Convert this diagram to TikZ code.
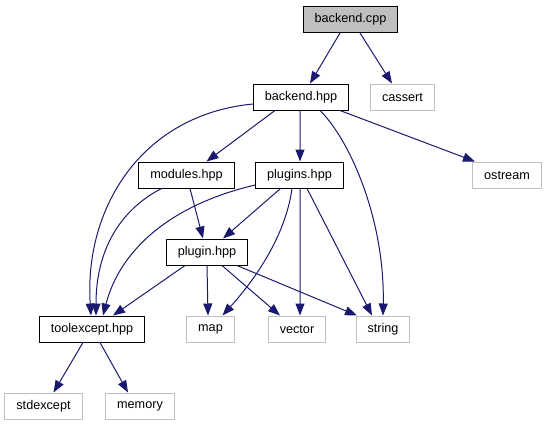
\documentclass[tikz,border=0pt]{standalone}
\usepackage{fontspec}
\setmainfont{Liberation Sans}
\usetikzlibrary{arrows.meta}
\definecolor{edgeBlue}{HTML}{191970}
\definecolor{extGray}{HTML}{BFBFBF}

\begin{document}
\begin{tikzpicture}[x=1bp, y=-1bp,
  file/.style={rectangle, draw=black, line width=1bp, minimum height=26bp,
               inner xsep=11.5bp, inner ysep=0pt, font=\fontsize{12.7}{15}\selectfont},
  ext/.style={file, draw=extGray},
  root/.style={file, fill=extGray},
  dep/.style={-{Triangle[length=12bp, width=9bp]}, line width=1bp, draw=edgeBlue}
]
\useasboundingbox (0,0) rectangle (547,427);
\node[root] (cpp) at (350.5,19.5) {backend.cpp};
\node[file] (bhpp) at (301,97) {backend.hpp};
\node[ext] (cassert) at (402.5,97) {cassert};
\node[file] (modules) at (186.5,175) {modules.hpp};
\node[file] (plugins) at (299.5,175) {plugins.hpp};
\node[ext] (ostream) at (507,175) {ostream};
\node[file] (plugin) at (207,252) {plugin.hpp};
\node[file] (toolexcept) at (92,329) {toolexcept.hpp};
\node[ext] (map) at (210.5,329) {map};
\node[ext] (vector) at (297,329) {vector};
\node[ext] (string) at (383,329) {string};
\node[ext] (stdexcept) at (43.5,406) {stdexcept};
\node[ext] (memory) at (140,406) {memory};
\draw[dep] ([xshift=-10.5bp]cpp.south) -- ([xshift=9bp]bhpp.north);
\draw[dep] ([xshift=9.5bp]cpp.south) -- ([xshift=-10.5bp]cassert.north);
\draw[dep] ([yshift=-7bp]bhpp.west) .. controls (140,115) and (84,210) .. ([xshift=-1bp]toolexcept.north);
\draw[dep] ([xshift=-26bp]bhpp.south) -- ([xshift=20bp]modules.north);
\draw[dep] ([xshift=-1bp]bhpp.south) -- ([xshift=0.5bp]plugins.north);
\draw[dep] ([xshift=19bp]bhpp.south) .. controls (350,140) and (385,220) .. (string.north);
\draw[dep] ([xshift=39bp]bhpp.south) -- ([xshift=-32bp]ostream.north);
\draw[dep] ([xshift=-25bp]modules.south) .. controls (120,210) and (96,250) .. ([xshift=4bp]toolexcept.north);
\draw[dep] ([xshift=3.5bp]modules.south) -- ([xshift=-4bp]plugin.north);
\draw[dep] ([xshift=-19bp]plugins.south) -- ([xshift=16bp]plugin.north);
\draw[dep] ([yshift=-10bp]plugins.west) .. controls (170,205) and (120,250) .. ([xshift=11bp]toolexcept.north);
\draw[dep] ([xshift=-7.5bp]plugins.south) .. controls (285,240) and (250,285) .. ([xshift=12bp]map.north);
\draw[dep] ([xshift=0.5bp]plugins.south) -- ([xshift=3bp]vector.north);
\draw[dep] ([xshift=7.5bp]plugins.south) -- ([xshift=-11bp]string.north);
\draw[dep] ([xshift=-22bp]plugin.south) -- ([xshift=21bp]toolexcept.north);
\draw[dep] (plugin.south) -- ([xshift=-2.5bp]map.north);
\draw[dep] ([xshift=15bp]plugin.south) -- ([xshift=-17bp]vector.north);
\draw[dep] ([xshift=30bp]plugin.south) -- ([xshift=-26bp]string.north);
\draw[dep] ([xshift=-9bp]toolexcept.south) -- ([xshift=10bp]stdexcept.north);
\draw[dep] ([xshift=8bp]toolexcept.south) -- ([xshift=-12bp]memory.north);
\end{tikzpicture}
\end{document}
